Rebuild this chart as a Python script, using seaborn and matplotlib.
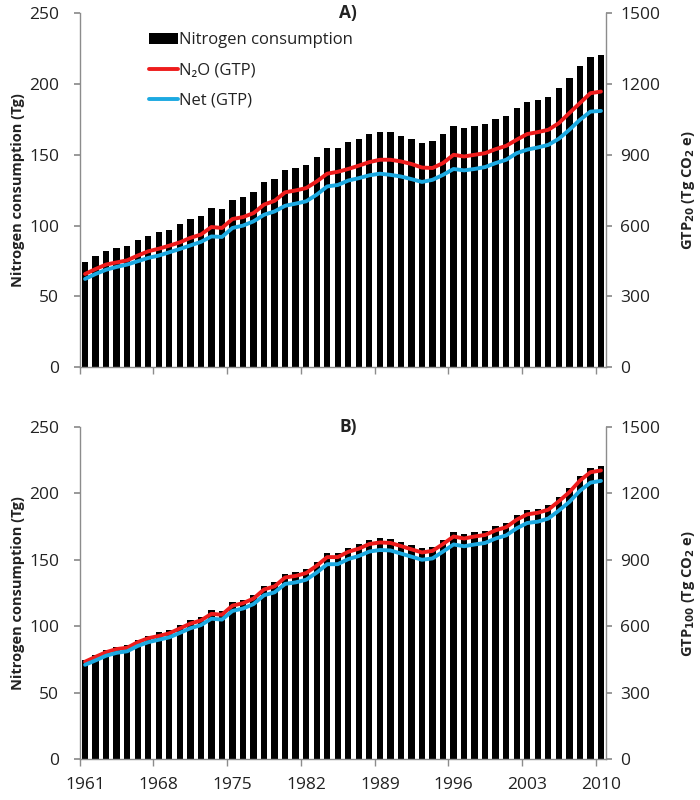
import matplotlib
matplotlib.use("Agg")
import matplotlib.pyplot as plt
import seaborn as sns
import pandas as pd
import numpy as np
from matplotlib.patches import Patch
from matplotlib.lines import Line2D

years = list(range(1961, 2011))
nitrogen = [74.6, 78.4, 82.1, 84.5, 85.7, 89.9, 93.0, 95.3, 97.2, 100.8,
            104.5, 106.9, 112.1, 111.4, 118.2, 120.1, 123.6, 130.6, 133.0, 139.6,
            140.8, 142.9, 148.5, 155.1, 155.1, 159.1, 161.5, 165.0, 166.2, 165.8,
            163.4, 161.0, 158.6, 159.7, 165.0, 170.6, 169.2, 170.6, 171.8, 175.3,
            177.7, 183.3, 187.4, 188.5, 190.9, 197.2, 204.0, 212.8, 219.2, 220.6]
n2o_gtp20 = [395, 416, 435, 444, 453, 473, 491, 502, 515, 529,
             548, 562, 594, 590, 628, 636, 653, 689, 705, 741,
             749, 759, 787, 820, 828, 840, 854, 869, 879, 879,
             872, 861, 846, 844, 865, 900, 893, 900, 907, 924,
             938, 964, 988, 996, 1006, 1034, 1077, 1119, 1161, 1168]
net_gtp20 = [374, 395, 413, 425, 435, 449, 463, 473, 487, 501,
             516, 531, 554, 552, 590, 600, 618, 646, 660, 684,
             693, 703, 731, 766, 772, 791, 801, 813, 820, 815,
             808, 797, 785, 794, 815, 840, 834, 840, 848, 865,
             879, 907, 922, 931, 942, 968, 1006, 1048, 1083, 1086]
n2o_gtp100 = [440, 462, 483, 497, 503, 528, 546, 556, 568, 590,
              612, 626, 656, 652, 693, 704, 725, 766, 780, 820,
              827, 840, 873, 912, 912, 936, 950, 971, 978, 976,
              962, 947, 933, 940, 971, 1005, 996, 1005, 1012, 1033,
              1047, 1081, 1105, 1112, 1126, 1164, 1205, 1257, 1295, 1303]
net_gtp100 = [426, 446, 467, 480, 487, 511, 528, 539, 550, 570,
              591, 605, 634, 630, 669, 680, 700, 740, 753, 791,
              798, 810, 842, 880, 880, 903, 917, 937, 944, 942,
              928, 914, 900, 906, 937, 969, 961, 969, 976, 996,
              1010, 1042, 1066, 1072, 1086, 1122, 1161, 1211, 1248, 1256]
label_years = [1961, 1968, 1975, 1982, 1989, 1996, 2003, 2010]
left_ticks = [0, 50, 100, 150, 200, 250]
right_ticks = [0, 300, 600, 900, 1200, 1500]

sns.set_theme(style="white")
plt.rcParams['font.family'] = ['Open Sans', 'DejaVu Sans']

RED = "#EE1C1C"
BLUE = "#1CA9E1"
GRAY = "#8C8C8C"
TXT = "#222222"

df = pd.DataFrame({"year": [str(y) for y in years], "pos": np.arange(len(years)),
                   "N": nitrogen, "n2o20": n2o_gtp20, "net20": net_gtp20,
                   "n2o100": n2o_gtp100, "net100": net_gtp100})

fig = plt.figure(figsize=(7, 8), dpi=100)
axA = fig.add_axes([0.114, 0.541, 0.752, 0.4425])
axB = fig.add_axes([0.114, 0.051, 0.752, 0.4155])

def panel(ax, red_col, blue_col, title, rlabel, show_xlabels, legend):
    sns.barplot(data=df, x="year", y="N", color="black", width=0.6,
                saturation=1, ax=ax, edgecolor="none")
    ax.set_xlim(-0.5, len(years) - 0.5)
    ax.set_ylim(0, 250)
    ax.set_yticks(left_ticks)
    ax.set_ylabel("Nitrogen consumption (Tg)", fontsize=10.5, fontweight="bold",
                  labelpad=3, color=TXT)
    ax.set_xlabel("")
    idx = [years.index(y) for y in label_years]
    ax.set_xticks(idx)
    if show_xlabels:
        ax.set_xticklabels([str(y) for y in label_years], fontsize=12.5, color=TXT)
    else:
        ax.set_xticklabels([])
    ax.set_xticks([i - 0.5 for i in idx], minor=True)
    ax.tick_params(axis="x", which="major", length=0, pad=13)
    ax.tick_params(axis="x", which="minor", length=5, color=GRAY, width=1,
                   direction="out", bottom=True)
    ax.tick_params(axis="y", length=4, color=GRAY, direction="out", left=True,
                   labelsize=12.5, pad=11, labelcolor=TXT)
    for s in ["top", "right"]:
        ax.spines[s].set_visible(False)
    for s in ["left", "bottom"]:
        ax.spines[s].set_color(GRAY)
        ax.spines[s].set_linewidth(1)

    ax2 = ax.twinx()
    sns.lineplot(data=df, x="pos", y=red_col, color=RED, lw=2.8, ax=ax2,
                 solid_joinstyle="round", solid_capstyle="round")
    sns.lineplot(data=df, x="pos", y=blue_col, color=BLUE, lw=2.8, ax=ax2,
                 solid_joinstyle="round", solid_capstyle="round")
    ax2.set_ylim(0, 1500)
    ax2.set_yticks(right_ticks)
    ax2.set_xlim(-0.5, len(years) - 0.5)
    ax2.set_ylabel(rlabel, fontsize=10.5, fontweight="bold", labelpad=14, color=TXT)
    ax2.set_xlabel("")
    ax2.tick_params(axis="y", length=4, color=GRAY, direction="out", right=True,
                    labelsize=12.5, pad=6, labelcolor=TXT)
    for s in ["top", "left", "bottom"]:
        ax2.spines[s].set_visible(False)
    ax2.spines["right"].set_color(GRAY)
    ax2.spines["right"].set_linewidth(1)
    ax.text(0.51, 1.0, title, transform=ax.transAxes, fontsize=12.5,
            fontweight="bold", ha="center", va="center", color=TXT)
    if legend:
        handles = [Patch(facecolor="black", edgecolor="none"),
                   Line2D([0], [0], color=RED, lw=2.8),
                   Line2D([0], [0], color=BLUE, lw=2.8)]
        ax2.legend(handles, ["Nitrogen consumption", "N\u2082O (GTP)", "Net (GTP)"],
                   loc="upper left", bbox_to_anchor=(0.118, 0.965), frameon=False,
                   fontsize=12, handlelength=1.75, handletextpad=0.1,
                   labelspacing=0.85, borderaxespad=0, labelcolor=TXT)
    return ax2

panel(axA, "n2o20", "net20", "A)", "GTP$_{\\mathbf{20}}$ (Tg CO$_{\\mathbf{2}}$ e)", False, True)
panel(axB, "n2o100", "net100", "B)", "GTP$_{\\mathbf{100}}$ (Tg CO$_{\\mathbf{2}}$ e)", True, False)

fig.savefig("out.png", dpi=100)
